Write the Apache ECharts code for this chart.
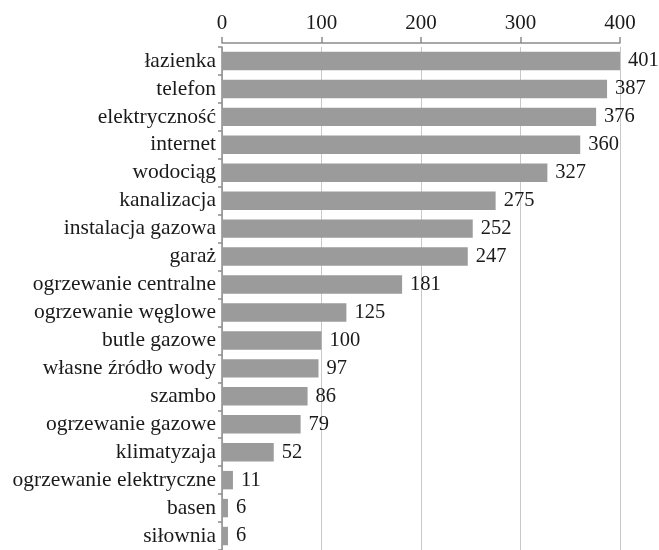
<!DOCTYPE html>
<html><head><meta charset="utf-8">
<script src="https://cdn.jsdelivr.net/npm/echarts@6/dist/echarts.min.js"></script>
<style>html,body{margin:0;padding:0;background:#fff}#c{width:659px;height:550px}</style>
</head><body><div id="c"></div>
<script>
const categories = ["łazienka","telefon","elektryczność","internet","wodociąg","kanalizacja","instalacja gazowa","garaż","ogrzewanie centralne","ogrzewanie węglowe","butle gazowe","własne źródło wody","szambo","ogrzewanie gazowe","klimatyzaja","ogrzewanie elektryczne","basen","siłownia"];
const values = [401,387,376,360,327,275,252,247,181,125,100,97,86,79,52,11,6,6];
const xTicks = [0,100,200,300,400];

const font = "'Liberation Serif','DejaVu Serif',serif";
const chart = echarts.init(document.getElementById('c'), null, {renderer:'canvas'});
chart.setOption({
  animation:false,
  grid:{left:222, right:39, top:47, bottom:-3, containLabel:false},
  xAxis:{type:'value', position:'top', min:xTicks[0], max:xTicks[xTicks.length-1], interval:100, offset:4,
    axisLine:{show:true, lineStyle:{color:'#8c8c8c', width:1.5}},
    axisTick:{show:true, length:6, lineStyle:{color:'#8c8c8c', width:1.5}},
    axisLabel:{color:'#1a1a1a', fontFamily:font, fontSize:21, margin:9},
    splitLine:{show:true, lineStyle:{color:'#c8c8c8', width:1}}},
  yAxis:{type:'category', inverse:true, data:categories,
    axisLine:{show:true, lineStyle:{color:'#8c8c8c', width:1.5}},
    axisTick:{show:true, length:4, interval:0, lineStyle:{color:'#8c8c8c', width:1.5}},
    axisLabel:{color:'#1a1a1a', fontFamily:font, fontSize:21.5, margin:6, interval:0, hideOverlap:false}},
  series:[{type:'bar', data:values, barCategoryGap:'34%',
    itemStyle:{color:'#9b9b9b'},
    label:{show:true, position:'right', distance:8, color:'#1a1a1a', fontFamily:font, fontSize:20.5}}]
});
</script></body></html>
